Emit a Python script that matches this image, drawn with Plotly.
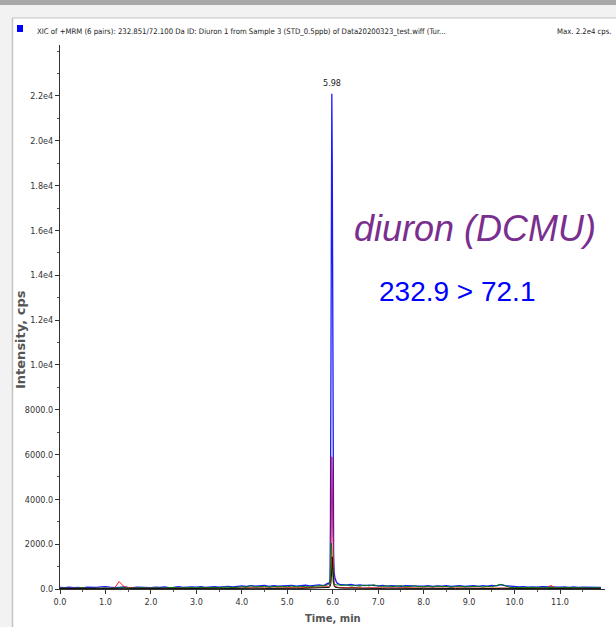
import plotly.graph_objects as go

# ---------------- data ----------------
time_min = [0.0, 0.1, 0.2, 0.3, 0.4, 0.5, 0.6, 0.7, 0.8, 0.9,
            1.0, 1.1, 1.2, 1.3, 1.4, 1.5, 1.6, 1.7, 1.8, 1.9,
            2.0, 2.1, 2.2, 2.3, 2.4, 2.5, 2.6, 2.7, 2.8, 2.9,
            3.0, 3.1, 3.2, 3.3, 3.4, 3.5, 3.6, 3.7, 3.8, 3.9,
            4.0, 4.1, 4.2, 4.3, 4.4, 4.5, 4.6, 4.7, 4.8, 4.9,
            5.0, 5.1, 5.2, 5.3, 5.4, 5.5, 5.6, 5.7, 5.8,
            5.85, 5.9, 5.92, 5.94, 5.95, 5.96, 5.97, 5.98, 5.99, 6.0,
            6.01, 6.02, 6.03, 6.05, 6.08, 6.1, 6.15,
            6.2, 6.3, 6.4, 6.5, 6.6, 6.7, 6.8, 6.9,
            7.0, 7.1, 7.2, 7.3, 7.4, 7.5, 7.6, 7.7, 7.8, 7.9,
            8.0, 8.1, 8.2, 8.3, 8.4, 8.5, 8.6, 8.7, 8.8, 8.9,
            9.0, 9.1, 9.2, 9.3, 9.4, 9.5, 9.6, 9.7, 9.8, 9.9,
            10.0, 10.1, 10.2, 10.3, 10.4, 10.5, 10.6, 10.7, 10.8, 10.9,
            11.0, 11.1, 11.2, 11.3, 11.4, 11.5, 11.6, 11.7, 11.8, 11.9]

blue_cps = [70, 55, 80, 60, 75, 50, 85, 65, 70, 95,
            110, 80, 60, 75, 90, 70, 55, 80, 65, 70,
            60, 85, 70, 90, 65, 75, 100, 70, 85, 95,
            80, 105, 75, 90, 110, 85, 100, 120, 90, 110,
            140, 115, 150, 125, 135, 160, 120, 145, 130, 150,
            140, 165, 130, 150, 175, 140, 160, 185, 150,
            210, 260, 220, 350, 3000, 11000, 19500, 22100, 19000, 10500,
            4200, 1500, 750, 480, 320, 260, 210,
            190, 170, 200, 160, 180, 150, 170, 160,
            140, 165, 130, 150, 145, 120, 155, 135, 140, 125,
            130, 150, 120, 140, 125, 145, 115, 135, 150, 120,
            135, 145, 120, 150, 130, 160, 140, 190, 150, 120,
            100, 90, 110, 85, 95, 80, 100, 90, 85, 95,
            80, 95, 75, 90, 70, 85, 80, 75, 90, 70]

green_cps = [30, 50, 25, 40, 35, 55, 30, 45, 40, 35,
             50, 30, 45, 35, 60, 40, 30, 55, 35, 45,
             40, 60, 35, 50, 45, 70, 40, 55, 50, 65,
             45, 80, 50, 60, 75, 55, 70, 85, 60, 75,
             100, 80, 150, 90, 95, 120, 85, 110, 95, 115,
             100, 135, 90, 115, 105, 95, 125, 140, 160,
             150, 200, 240, 400, 800, 1300, 2050, 1700, 1000, 500,
             300, 250, 220, 200, 180, 190, 170,
             160, 185, 135, 150, 125, 175, 140, 190,
             130, 115, 145, 105, 125, 150, 95, 115, 135, 105,
             95, 125, 85, 135, 105, 115, 80, 110, 125, 90,
             105, 95, 125, 85, 115, 100, 145, 210, 135, 75,
             60, 75, 50, 70, 55, 80, 45, 65, 75, 50,
             55, 70, 45, 60, 50, 65, 40, 55, 60, 45]

red_cps = [30, 40, 25, 35, 30, 45, 25, 35, 30, 40,
           35, 30, 40, 330, 120, 60, 35, 30, 40, 35,
           30, 40, 35, 45, 30, 40, 35, 30, 45, 40,
           35, 45, 40, 35, 50, 40, 45, 35, 50, 40,
           45, 55, 40, 50, 45, 60, 50, 45, 55, 50,
           45, 60, 50, 55, 50, 60, 55, 70, 90,
           80, 100, 120, 200, 400, 900, 3000, 5900, 5200, 2600,
           900, 350, 200, 120, 90, 80, 70,
           60, 55, 65, 50, 60, 45, 55, 50,
           45, 55, 40, 50, 45, 55, 40, 50, 45, 40,
           45, 40, 50, 35, 45, 40, 50, 35, 45, 40,
           40, 45, 35, 50, 40, 45, 40, 60, 45, 35,
           35, 40, 30, 45, 35, 40, 35, 40, 160, 40,
           35, 30, 40, 35, 30, 40, 35, 30, 35, 30]

black_cps = [20, 25, 15, 20, 25, 15, 20, 25, 20, 15,
             25, 20, 15, 25, 20, 15, 20, 25, 20, 15,
             20, 25, 20, 15, 25, 20, 15, 25, 20, 25,
             20, 25, 30, 20, 25, 30, 20, 25, 30, 25,
             30, 35, 25, 30, 35, 25, 30, 35, 30, 25,
             30, 35, 30, 25, 35, 30, 35, 40, 45,
             50, 60, 70, 100, 150, 250, 500, 900, 1430, 1000,
             450, 220, 130, 80, 60, 50, 45,
             40, 35, 45, 30, 40, 35, 30, 35,
             30, 25, 35, 30, 25, 30, 35, 25, 30, 25,
             30, 25, 30, 20, 25, 30, 25, 20, 30, 25,
             25, 30, 20, 25, 30, 25, 20, 30, 25, 20,
             20, 25, 20, 15, 25, 20, 15, 20, 25, 20,
             15, 20, 25, 15, 20, 15, 20, 25, 15, 20]

x_tick_vals = [0, 1, 2, 3, 4, 5, 6, 7, 8, 9, 10, 11]
x_tick_text = ["0.0", "1.0", "2.0", "3.0", "4.0", "5.0", "6.0", "7.0", "8.0", "9.0", "10.0", "11.0"]
y_tick_vals = [0, 2000, 4000, 6000, 8000, 10000, 12000, 14000, 16000, 18000, 20000, 22000]
y_tick_text = ["0.0", "2000.0", "4000.0", "6000.0", "8000.0", "1.0e4", "1.2e4", "1.4e4",
               "1.6e4", "1.8e4", "2.0e4", "2.2e4"]

peak_time = 5.98
peak_max = 22100
max_marker_y = 22000

title_text = ("XIC of +MRM (6 pairs): 232.851/72.100 Da ID: Diuron 1 from Sample 3 "
              "(STD_0.5ppb) of Data20200323_test.wiff (Tur...")
max_text = "Max. 2.2e4 cps."
compound_text = "diuron (DCMU)"
transition_text = "232.9 > 72.1"

# ---------------- layout geometry ----------------
W, H = 616, 627
ML, MR, MT, MB = 60, 11, 45, 38
PW, PH = W - ML - MR, H - MT - MB


def xp(px):
    return (px - ML) / PW


def yp(py):
    return (H - MB - py) / PH


NARROW = "Liberation Sans Narrow, DejaVu Sans Condensed, Arial Narrow, sans-serif"

fig = go.Figure()
for name, ys, col, w in [("blue", blue_cps, "#1a1aff", 1.3),
                         ("red", red_cps, "#ff1a1a", 1),
                         ("green", green_cps, "#008000", 1),
                         ("black", black_cps, "#101010", 1)]:
    fig.add_trace(go.Scatter(x=time_min, y=ys, mode="lines", name=name,
                             line=dict(color=col, width=w), hoverinfo="skip"))

# max marker on y axis
fig.add_trace(go.Scatter(x=[-0.03], y=[max_marker_y], mode="markers",
                         marker=dict(symbol="triangle-right", size=7, color="#0000ff"),
                         cliponaxis=False, hoverinfo="skip"))

shapes = [
    dict(type="rect", xref="paper", yref="paper", x0=xp(0), x1=xp(W), y0=yp(0), y1=yp(5),
         fillcolor="#a9a9a9", line=dict(width=0)),
    dict(type="rect", xref="paper", yref="paper", x0=xp(0), x1=xp(W), y0=yp(5), y1=yp(18),
         fillcolor="#f2f2f2", line=dict(width=0)),
    dict(type="rect", xref="paper", yref="paper", x0=xp(0), x1=xp(12), y0=yp(5), y1=yp(H),
         fillcolor="#f2f2f2", line=dict(width=0)),
    dict(type="line", xref="paper", yref="paper", x0=xp(12), x1=xp(W), y0=yp(18), y1=yp(18),
         line=dict(color="#c4c4c4", width=1)),
    dict(type="line", xref="paper", yref="paper", x0=xp(12.5), x1=xp(12.5), y0=yp(18), y1=yp(H),
         line=dict(color="#c4c4c4", width=1.5)),
    dict(type="rect", xref="paper", yref="paper", x0=xp(17), x1=xp(23), y0=yp(32), y1=yp(25),
         fillcolor="#0000ff", line=dict(width=0)),
]

annotations = [
    dict(text=title_text, xref="paper", yref="paper", x=xp(35), y=yp(31),
         xanchor="left", yanchor="middle", showarrow=False,
         font=dict(family=NARROW, size=7.7, color="#222")),
    dict(text=max_text, xref="paper", yref="paper", x=xp(614), y=yp(31),
         xanchor="right", yanchor="middle", showarrow=False,
         font=dict(family=NARROW, size=7.7, color="#222")),
    dict(text=str(peak_time), x=peak_time, y=peak_max, xanchor="center", yanchor="bottom",
         yshift=4, showarrow=False, font=dict(family=NARROW, size=9, color="#222")),
    dict(text=compound_text, xref="paper", yref="paper", x=xp(352), y=yp(228),
         xanchor="left", yanchor="middle", showarrow=False,
         font=dict(family="Liberation Sans, Arial, sans-serif", size=36, color="#7a2e8e",
                   style="italic")),
    dict(text=transition_text, xref="paper", yref="paper", x=xp(377), y=yp(291),
         xanchor="left", yanchor="middle", showarrow=False,
         font=dict(family="Liberation Sans, Arial, sans-serif", size=28, color="#0000ff")),
    dict(text="<b>Intensity, cps</b>", xref="paper", yref="paper", x=xp(20), y=yp(340),
         xanchor="center", yanchor="middle", textangle=-90, showarrow=False,
         font=dict(family="DejaVu Sans, sans-serif", size=13, color="#555")),
    dict(text="<b>Time, min</b>", xref="paper", yref="paper", x=xp(333), y=yp(626),
         xanchor="center", yanchor="bottom", showarrow=False,
         font=dict(family="DejaVu Sans, sans-serif", size=10, color="#555")),
]

fig.update_layout(
    width=W, height=H,
    margin=dict(l=ML, r=MR, t=MT, b=MB, pad=0),
    paper_bgcolor="white", plot_bgcolor="white",
    showlegend=False,
    shapes=shapes, annotations=annotations,
    xaxis=dict(range=[0, 11.99], showgrid=False, zeroline=False,
               showline=True, linecolor="#333", linewidth=1,
               tickmode="array", tickvals=x_tick_vals, ticktext=x_tick_text,
               ticks="outside", ticklen=4, tickcolor="#333",
               minor=dict(dtick=0.5, ticks="outside", ticklen=2, tickcolor="#555"),
               tickfont=dict(family=NARROW, size=9, color="#333")),
    yaxis=dict(range=[0, 24275], showgrid=False, zeroline=False,
               showline=True, linecolor="#333", linewidth=1,
               tickmode="array", tickvals=y_tick_vals, ticktext=y_tick_text,
               ticks="outside", ticklen=4, tickcolor="#333",
               minor=dict(dtick=1000, ticks="outside", ticklen=2, tickcolor="#555"),
               tickfont=dict(family=NARROW, size=9, color="#333")),
)

fig.write_html("out.html", config={"displayModeBar": False},
               post_script="document.body.style.margin='0';document.body.style.overflow='hidden';")
